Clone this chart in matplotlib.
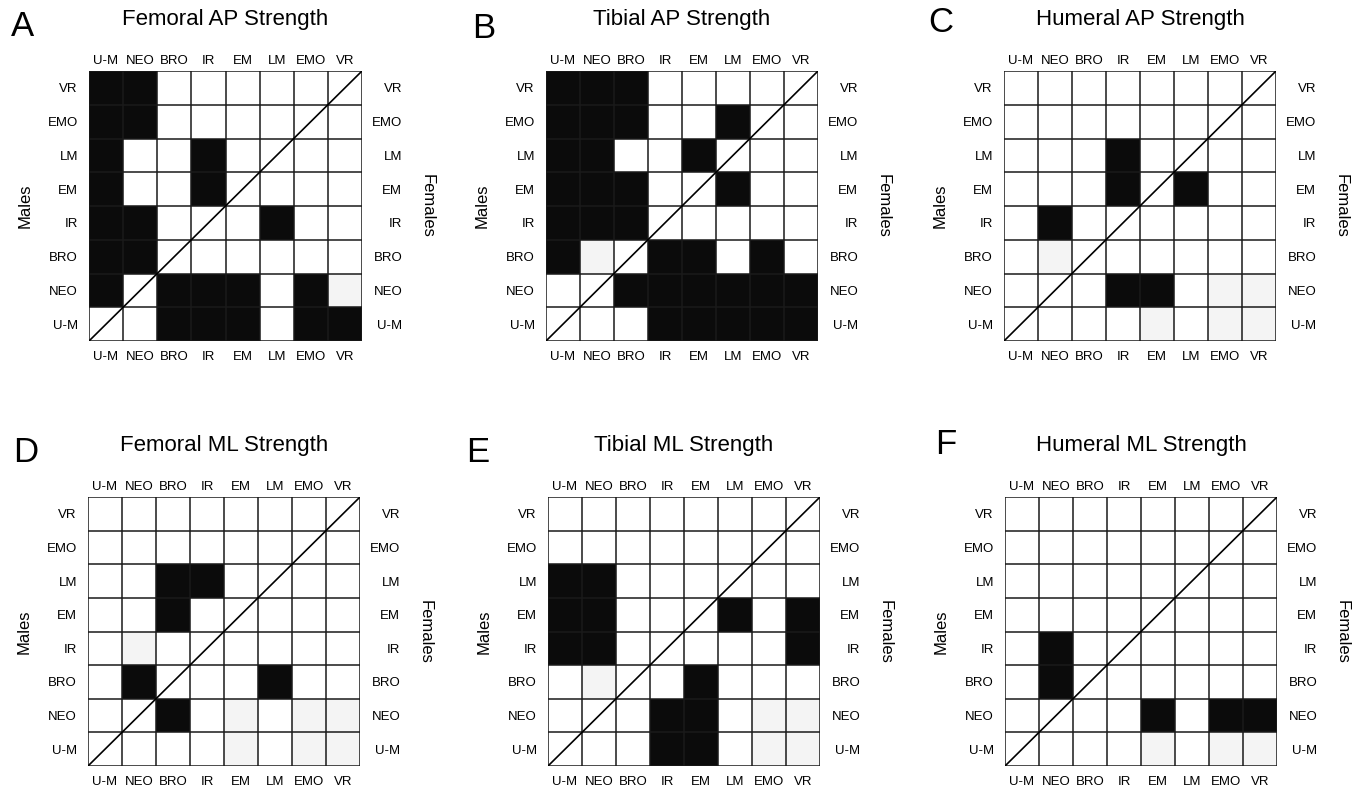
import numpy as np
import matplotlib.pyplot as plt
from matplotlib.colors import ListedColormap, BoundaryNorm

plt.rcParams['font.family'] = ['Liberation Sans', 'DejaVu Sans']

# groups, bottom-to-top on the y axis and left-to-right on the x axis
grupos = ["U-M", "NEO", "BRO", "IR", "EM", "LM", "EMO", "VR"]

# 0 = white, 1 = black, 2 = light grey
# rows listed from top (VR) to bottom (U-M), columns U-M ... VR
femoral_ap = [
    [1, 1, 0, 0, 0, 0, 0, 0],
    [1, 1, 0, 0, 0, 0, 0, 0],
    [1, 0, 0, 1, 0, 0, 0, 0],
    [1, 0, 0, 1, 0, 0, 0, 0],
    [1, 1, 0, 0, 0, 1, 0, 0],
    [1, 1, 0, 0, 0, 0, 0, 0],
    [1, 0, 1, 1, 1, 0, 1, 2],
    [0, 0, 1, 1, 1, 0, 1, 1],
]
tibial_ap = [
    [1, 1, 1, 0, 0, 0, 0, 0],
    [1, 1, 1, 0, 0, 1, 0, 0],
    [1, 1, 0, 0, 1, 0, 0, 0],
    [1, 1, 1, 0, 0, 1, 0, 0],
    [1, 1, 1, 0, 0, 0, 0, 0],
    [1, 2, 0, 1, 1, 0, 1, 0],
    [0, 0, 1, 1, 1, 1, 1, 1],
    [0, 0, 0, 1, 1, 1, 1, 1],
]
humeral_ap = [
    [0, 0, 0, 0, 0, 0, 0, 0],
    [0, 0, 0, 0, 0, 0, 0, 0],
    [0, 0, 0, 1, 0, 0, 0, 0],
    [0, 0, 0, 1, 0, 1, 0, 0],
    [0, 1, 0, 0, 0, 0, 0, 0],
    [0, 2, 0, 0, 0, 0, 0, 0],
    [0, 0, 0, 1, 1, 0, 2, 2],
    [0, 0, 0, 0, 2, 0, 2, 2],
]
femoral_ml = [
    [0, 0, 0, 0, 0, 0, 0, 0],
    [0, 0, 0, 0, 0, 0, 0, 0],
    [0, 0, 1, 1, 0, 0, 0, 0],
    [0, 0, 1, 0, 0, 0, 0, 0],
    [0, 2, 0, 0, 0, 0, 0, 0],
    [0, 1, 0, 0, 0, 1, 0, 0],
    [0, 0, 1, 0, 2, 0, 2, 2],
    [0, 0, 0, 0, 2, 0, 2, 2],
]
tibial_ml = [
    [0, 0, 0, 0, 0, 0, 0, 0],
    [0, 0, 0, 0, 0, 0, 0, 0],
    [1, 1, 0, 0, 0, 0, 0, 0],
    [1, 1, 0, 0, 0, 1, 0, 1],
    [1, 1, 0, 0, 0, 0, 0, 1],
    [0, 2, 0, 0, 1, 0, 0, 0],
    [0, 0, 0, 1, 1, 0, 2, 2],
    [0, 0, 0, 1, 1, 0, 2, 2],
]
humeral_ml = [
    [0, 0, 0, 0, 0, 0, 0, 0],
    [0, 0, 0, 0, 0, 0, 0, 0],
    [0, 0, 0, 0, 0, 0, 0, 0],
    [0, 0, 0, 0, 0, 0, 0, 0],
    [0, 1, 0, 0, 0, 0, 0, 0],
    [0, 1, 0, 0, 0, 0, 0, 0],
    [0, 0, 0, 0, 1, 0, 1, 1],
    [0, 0, 0, 0, 2, 0, 2, 2],
]

titulos = ["Femoral AP Strength", "Tibial AP Strength", "Humeral AP Strength",
           "Femoral ML Strength", "Tibial ML Strength", "Humeral ML Strength"]
letras = ["A", "B", "C", "D", "E", "F"]
matrices = [femoral_ap, tibial_ap, humeral_ap, femoral_ml, tibial_ml, humeral_ml]

# layout in pixels: grid box (left, top, right, bottom) and panel letter position
W, H = 1365, 791
cajas = [(89, 71, 362, 341), (546, 71, 818, 341), (1004, 71, 1276, 341),
         (88, 497, 360, 766), (548, 497, 820, 766), (1005, 497, 1277, 766)]
pos_letras = [(22, 26), (484, 28), (941, 22), (26, 453), (478, 452), (946, 445)]

fig = plt.figure(figsize=(W / 100, H / 100), dpi=100)
colores = ListedColormap(['white', '#0b0b0b', '#f4f4f4'])
norma = BoundaryNorm([-0.5, 0.5, 1.5, 2.5], 3)

for titulo, letra, matriz, caja, pl in zip(titulos, letras, matrices, cajas, pos_letras):
    l, t, r, b = caja
    ax = fig.add_axes([l / W, 1 - b / H, (r - l) / W, (b - t) / H])
    ax.pcolormesh(np.arange(9), np.arange(9), np.array(matriz)[::-1],
                  cmap=colores, norm=norma)
    for k in range(9):
        ax.axhline(k, color='#1a1a1a', lw=1.1)
        ax.axvline(k, color='#1a1a1a', lw=1.1)
    ax.plot([0, 8], [0, 8], color='black', lw=1.2)
    ax.set_xlim(0, 8)
    ax.set_ylim(0, 8)
    for s in ax.spines.values():
        s.set_visible(False)

    centros = np.arange(8) + 0.5
    ax.set_xticks(centros, grupos)
    ax.set_yticks(centros, grupos)
    ax.tick_params(axis='x', length=0, labelsize=9.5, pad=7)
    ax.tick_params(axis='y', length=0, labelsize=9.5, pad=8)

    arriba = ax.secondary_xaxis('top')
    arriba.set_xticks(centros, grupos)
    arriba.tick_params(length=0, labelsize=9.5, pad=3)
    arriba.spines['top'].set_visible(False)

    derecha = ax.secondary_yaxis('right')
    derecha.set_yticks(centros, grupos)
    derecha.tick_params(length=0, labelsize=9.5, pad=29)
    derecha.spines['right'].set_visible(False)
    for lab in derecha.get_yticklabels():
        lab.set_ha('right')

    ax.text(-64 / (r - l), 0.5, "Males", transform=ax.transAxes, rotation=90,
            ha='center', va='center', fontsize=12)
    ax.text(1 + 65 / (r - l), 0.5, "Females", transform=ax.transAxes, rotation=270,
            ha='center', va='center', fontsize=12)

    fig.text((l + r) / 2 / W, 1 - (t - 51) / H, titulo, ha='center', va='center',
             fontsize=16)
    fig.text(pl[0] / W, 1 - pl[1] / H, letra, ha='center', va='center', fontsize=25)

fig.savefig("out.png", dpi=100, facecolor='white')
